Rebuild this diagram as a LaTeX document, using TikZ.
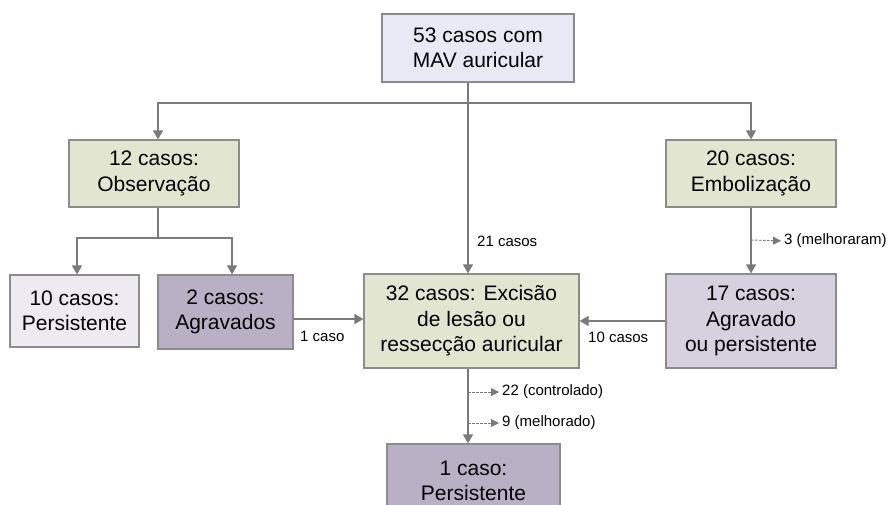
\documentclass[tikz,border=0pt]{standalone}
\usepackage{fontspec}
\setmainfont{Liberation Sans}
\usetikzlibrary{arrows.meta}
\definecolor{linegray}{HTML}{7A7A7A}
\definecolor{boxgray}{HTML}{8C8C8C}
\definecolor{topfill}{HTML}{E9E9F5}
\definecolor{greenfill}{HTML}{E2E5CF}
\definecolor{palefill}{HTML}{EDEAF2}
\definecolor{darkfill}{HTML}{B9B0C6}
\definecolor{midfill}{HTML}{D6D0DF}
\begin{document}
\begin{tikzpicture}[x=1pt,y=-1pt,
    box/.style={draw=boxgray,line width=1.2pt,align=center,inner sep=0pt,
        font=\fontsize{21}{25.5}\selectfont},
    arr/.style={draw=linegray,line width=1.3pt,-{Triangle[length=9pt,width=10pt]}},
    plain/.style={draw=linegray,line width=1.3pt},
    dasharr/.style={draw=linegray,line width=0.9pt,dash pattern=on 2.5pt off 1.5pt,
        shorten >=3pt,-{Triangle[length=8pt,width=8pt]}},
    lbl/.style={font=\fontsize{15}{18}\selectfont,inner sep=0pt,anchor=west}]
    \useasboundingbox (0,0) rectangle (891,505);
    \clip (0,0) rectangle (891,505);
    \node [box,fill=topfill,minimum width=192pt,minimum height=68pt] (top) at (478,48) {53 casos com\\MAV auricular};
    \node [box,fill=greenfill,minimum width=170pt,minimum height=67pt] (obs) at (154,173.5) {12 casos:\\Observação};
    \node [box,fill=greenfill,minimum width=170pt,minimum height=67pt] (emb) at (751,173.5) {20 casos:\\Embolização};
    \node [box,fill=palefill,minimum width=129pt,minimum height=72pt] (pers) at (74.5,311) {10 casos:\\Persistente};
    \node [box,fill=darkfill,minimum width=135pt,minimum height=74pt] (agr) at (225.5,312) {2 casos:\\Agravados};
    \node [box,fill=greenfill,minimum width=215pt,minimum height=94pt] (exc) at (471.5,321) {32 casos: Excisão\\de lesão ou\\ressecção auricular};
    \node [box,fill=midfill,minimum width=170pt,minimum height=94pt] (agp) at (751,321) {17 casos:\\Agravado\\ou persistente};
    \node [box,fill=darkfill,minimum width=173pt,minimum height=74pt] (fim) at (473.5,481) {1 caso:\\Persistente};
    \coordinate (trunk) at (468,103);
    \coordinate (obsfork) at (158,238);
    \coordinate (embfork) at (751,240);
    \coordinate (excfork1) at (468,392);
    \coordinate (excfork2) at (468,423);
    \draw [arr] (top.south -| trunk) -- (exc.north -| trunk);
    \draw [arr] (trunk) -| ([xshift=4pt]obs.north);
    \draw [arr] (trunk) -| (emb.north);
    \draw [plain] (obs.south -| obsfork) -- (obsfork);
    \draw [arr] (obsfork) -| ([xshift=2.5pt]pers.north);
    \draw [arr] (obsfork) -| ([xshift=6.5pt]agr.north);
    \draw [arr] ([yshift=-7pt]agr.east) -- ([yshift=-7pt]agr.east -| exc.west);
    \draw [arr] (agp.west) -- (exc.east);
    \draw [arr] (emb.south) -- (agp.north);
    \draw [arr] (exc.south -| trunk) -- (fim.north -| trunk);
    \node [lbl] (l21) at (477,241) {21 casos};
    \node [lbl] (l1) at (300,336) {1 caso};
    \node [lbl] (l10) at (588,337) {10 casos};
    \node [lbl] (l3) at (784,241) {3 (melhoraram)};
    \node [lbl] (l22) at (502,392) {22 (controlado)};
    \node [lbl] (l9) at (502,423) {9 (melhorado)};
    \draw [dasharr] (embfork) -- (l3.west);
    \draw [dasharr] (excfork1) -- (l22.west);
    \draw [dasharr] (excfork2) -- (l9.west);
\end{tikzpicture}
\end{document}
